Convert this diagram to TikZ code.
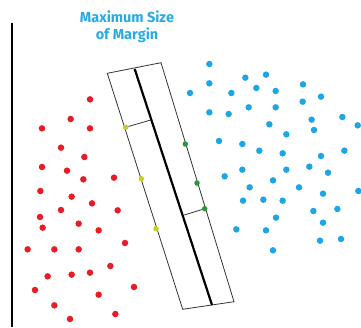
\documentclass[tikz,border=0pt]{standalone}
\usepackage{fontspec}
\setsansfont{Fira Sans}
\usepackage{tikz}
\usetikzlibrary{positioning}
\definecolor{redpt}{RGB}{232,28,36}
\definecolor{bluept}{RGB}{30,166,228}
\definecolor{yellowpt}{RGB}{204,204,30}
\definecolor{greenpt}{RGB}{44,150,58}
\definecolor{titleblue}{RGB}{41,171,226}

\begin{document}
\begin{tikzpicture}[x=1pt, y=-1pt,
  dot/.style={circle, inner sep=0pt, minimum size=6.5pt},
  reddot/.style={dot, fill=redpt},
  bluedot/.style={dot, fill=bluept},
  supvec/.style={circle, inner sep=0pt, minimum size=5.5pt},
  band/.style={draw=black!80, line width=0.8pt},
  title/.style={font=\sffamily\bfseries\fontsize{14.5}{17}\selectfont,
    text=titleblue, align=center, inner sep=0pt}]
  \useasboundingbox (0,0) rectangle (361,327);
  % axis
  \coordinate (axtop) at (11.7,22.7);
  \coordinate (axbot) at (11.7,327);
  \draw[line width=1.6pt] (axtop) -- (axbot);
  \node[title] (ttl) at (127,26.5) {Maximum Size\\of Margin};
  % margin band
  \coordinate (tl) at (107.3,73.3);
  \coordinate (tr) at (161,62.7);
  \coordinate (br) at (234,301.7);
  \coordinate (bl) at (182.7,309.3);
  \coordinate (htop) at (134.7,69);
  \coordinate (hbot) at (212,305);
  \draw[band] (tl) -- (tr) -- (br) -- (bl) -- cycle;
  \draw[line width=2.2pt] (htop) -- (hbot);
  % red class
  \foreach \x/\y [count=\i] in {270/298, 212/357, 126/385, 270/385, 183/443,
      253/471, 126/501, 201/512, 250/538, 342/533, 121/573, 215/590,
      276/610, 183/630, 353/631, 120/651, 128/683, 236/671, 296/691,
      375/729, 83/748, 163/748, 236/748, 331/798, 143/829, 215/824,
      270/818, 105/870, 296/884, 402/861, 163/916, 346/942, 210/957}
    \node[reddot] (r\i) at (\x/3,\y/3) {};
  % blue class
  \foreach \x/\y [count=\i] in {628/192, 628/250, 570/279, 736/233, 798/224,
      694/279, 769/264, 827/273, 909/253, 963/290, 908/305, 628/337,
      686/342, 746/322, 827/322, 935/359, 1027/351, 1073/376, 808/373,
      859/403, 942/390, 657/423, 727/432, 778/452, 848/460, 963/468,
      1033/452, 674/529, 727/509, 859/509, 928/500, 984/518, 749/562,
      819/541, 897/562, 969/581, 1075/573, 729/602, 790/599, 848/602,
      940/633, 1012/627, 828/653, 969/668, 709/688, 798/691, 960/722,
      1023/717, 819/751}
    \node[bluedot] (b\i) at (\x/3,\y/3) {};
  % support vectors
  \node[supvec, fill=yellowpt] (y1) at (125.7,127.3) {};
  \node[supvec, fill=yellowpt] (y2) at (141.3,178.7) {};
  \node[supvec, fill=yellowpt] (y3) at (156,228.7) {};
  \node[supvec, fill=greenpt] (g1) at (185.3,144) {};
  \node[supvec, fill=greenpt] (g2) at (197,183) {};
  \node[supvec, fill=greenpt] (g3) at (204.7,208.7) {};
  \coordinate (fy) at (150.7,120);
  \coordinate (fg) at (184.3,215);
  \draw[band] (y1) -- (fy);
  \draw[band] (g3) -- (fg);
\end{tikzpicture}
\end{document}
